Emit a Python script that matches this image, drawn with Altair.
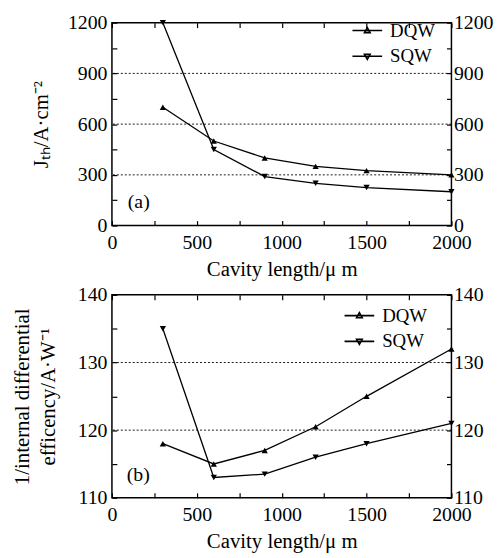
import altair as alt
import pandas as pd

# ---- data ----
length = [300, 600, 900, 1200, 1500, 2000]
jth_dqw = [700, 500, 400, 350, 325, 300]
jth_sqw = [1200, 450, 290, 250, 225, 200]
eff_dqw = [118, 115, 117, 120.5, 125, 132]
eff_sqw = [135, 113, 113.5, 116, 118, 121]
series = ["DQW", "SQW"]

x_ticks = [0, 250, 500, 750, 1000, 1250, 1500, 1750, 2000]
x_labels = [0, 500, 1000, 1500, 2000]
ya_ticks = [0, 150, 300, 450, 600, 750, 900, 1050, 1200]
ya_labels = [0, 300, 600, 900, 1200]
yb_ticks = [110, 115, 120, 125, 130, 135, 140]
yb_labels = [110, 120, 130, 140]
grid_a = [300, 600, 900]
grid_b = [120, 130]

FONT = "Liberation Serif"
TICK_FS = 20
TITLE_FS = 21
LEG_FS = 19
W, H = 343, 205

# legend symbols: a short line with the series marker in its middle
LEG_UP = "M-1,0L1,0M0,-0.2L0.19,0.14L-0.19,0.14Z"
LEG_DOWN = "M-1,0L1,0M0,0.2L0.19,-0.14L-0.19,-0.14Z"


def label_expr(vals):
    return f"indexof({vals}, datum.value) >= 0 ? datum.label : ''"


def panel(dqw, sqw, ydom, yticks, ylabels, grid, ytitle, ytitle_pad, tag, tag_xy, leg_xy, leg_pad):
    df = pd.DataFrame({
        "length": length * 2,
        "value": dqw + sqw,
        "series": [series[0]] * len(length) + [series[1]] * len(length),
    })
    xscale = alt.Scale(domain=[0, 2000], nice=False, zero=False)
    yscale = alt.Scale(domain=ydom, nice=False, zero=False)

    common = dict(domain=False, offset=-5, tickSize=5, tickColor="black",
                  tickWidth=1.2, grid=False, labelFont=FONT, labelFontSize=TICK_FS,
                  labelColor="black", titleFont=FONT, titleFontSize=TITLE_FS,
                  titleColor="black", titleFontWeight="normal", format="d")

    ax_bottom = alt.Axis(orient="bottom", values=x_ticks, labelExpr=label_expr(x_labels),
                         title="Cavity length/\u03bc m", labelPadding=7, titlePadding=6,
                         labelFlush=False, labelOverlap=False, **common)
    ax_top = alt.Axis(orient="top", values=x_ticks, labels=False, title=None, **common)
    ax_left = alt.Axis(orient="left", values=yticks, labelExpr=label_expr(ylabels),
                       title=ytitle, labelPadding=5, titlePadding=ytitle_pad,
                       titleLineHeight=26,
                       labelFlush=False, labelOverlap=False, **common)
    ax_right = alt.Axis(orient="right", values=yticks, labelExpr=label_expr(ylabels),
                        title=None, labelPadding=2, labelFlush=False,
                        labelOverlap=False, **common)

    gridlayer = alt.Chart(pd.DataFrame({"g": grid})).mark_rule(
        color="black", strokeDash=[2, 2], strokeWidth=0.9
    ).encode(y=alt.Y("g:Q", scale=yscale, axis=None))

    lines = alt.Chart(df).mark_line(strokeWidth=1.3, color="black").encode(
        x=alt.X("length:Q", scale=xscale, axis=ax_bottom),
        y=alt.Y("value:Q", scale=yscale, axis=ax_left),
        detail="series:N",
    )

    pts = alt.Chart(df).mark_point(filled=True, size=40, opacity=1, color="black").encode(
        x=alt.X("length:Q", scale=xscale, axis=ax_top),
        y=alt.Y("value:Q", scale=yscale, axis=ax_right),
        shape=alt.Shape("series:N",
                        scale=alt.Scale(domain=series, range=["triangle-up", "triangle-down"]),
                        legend=None),
    )

    leg = alt.Chart(df).mark_point(filled=False, opacity=0, size=1, color="black",
                                   strokeWidth=1.6).encode(
        x=alt.X("length:Q", scale=xscale, axis=None),
        y=alt.Y("value:Q", scale=yscale, axis=None),
        shape=alt.Shape("series:N",
                        scale=alt.Scale(domain=series, range=[LEG_UP, LEG_DOWN]),
                        legend=alt.Legend(title=None, orient="none", legendX=leg_xy[0],
                                          legendY=leg_xy[1], symbolSize=900,
                                          symbolStrokeColor="black",
                                          symbolStrokeWidth=1.6, symbolOpacity=1,
                                          labelFont=FONT, labelFontSize=LEG_FS,
                                          labelColor="black", labelOffset=7, padding=0,
                                          rowPadding=leg_pad)),
    )

    text = alt.Chart(pd.DataFrame({"t": [tag]})).mark_text(
        font=FONT, fontSize=TICK_FS, color="black", align="left", baseline="middle"
    ).encode(text="t:N", x=alt.value(tag_xy[0]), y=alt.value(tag_xy[1]))

    return alt.layer(gridlayer, lines, pts, leg, text).resolve_axis(
        x="independent", y="independent"
    ).resolve_scale(shape="independent").properties(width=W, height=H)


pa = panel(jth_dqw, jth_sqw, [0, 1200], ya_ticks, ya_labels, grid_a,
           "J\u209c\u2095/A\u00b7cm\u207b\u00b2", 16, "(a)", (16, 181), (242, -8), -3)
pb = panel(eff_dqw, eff_sqw, [110, 140], yb_ticks, yb_labels, grid_b,
           ["1/internal differential", "efficency/A\u00b7W\u207b\u00b9"], 19, "(b)", (15, 182), (234, 5), -3)

chart = alt.vconcat(pa, pb, spacing=4).resolve_scale(
    shape="independent"
).configure_view(stroke="black", strokeWidth=1.5).properties(
    padding={"left": 3, "top": 1, "right": 0, "bottom": 0}
)

chart.save("out.html", embed_options={"renderer": "svg", "actions": False})
